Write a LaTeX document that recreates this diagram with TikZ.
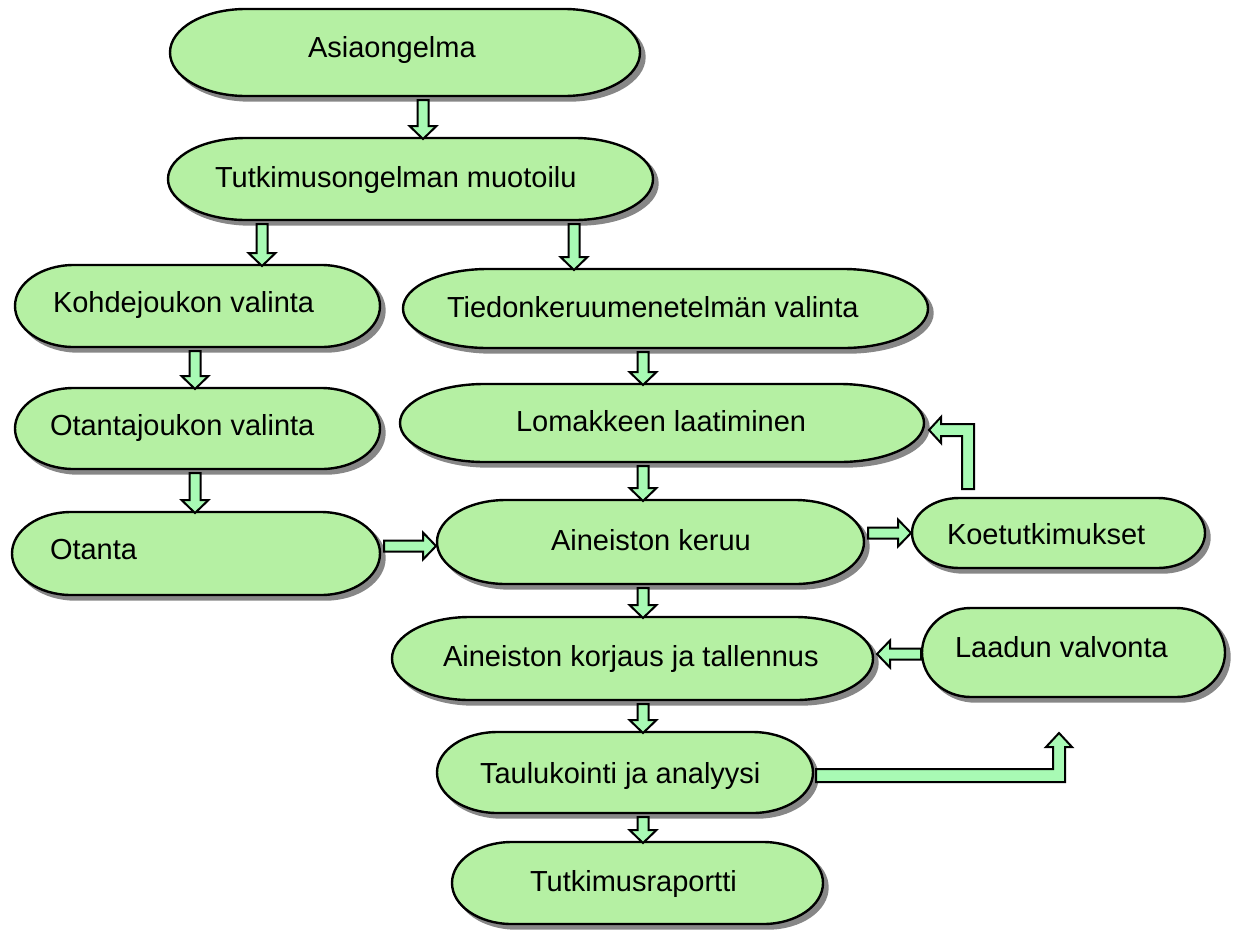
\documentclass[tikz,border=0pt]{standalone}
\usepackage{fontspec}
\setmainfont{Liberation Sans}
\usetikzlibrary{calc}
\definecolor{boxgreen}{RGB}{181,240,163}
\definecolor{arrowgreen}{RGB}{168,250,180}
\definecolor{shadowgray}{RGB}{135,135,135}
\tikzset{
  area/.style={draw=none,inner sep=0pt,outer sep=0pt,rectangle},
  termfill/.style={fill=boxgreen,draw=black,line width=2.4pt,
    preaction={fill=shadowgray,draw=shadowgray,line width=2.4pt,transform canvas={shift={(4.5pt,-4.5pt)}}}},
  barrow/.style={fill=arrowgreen,draw=black,line width=2pt,line join=miter},
  lbl/.style={inner sep=0pt,outer sep=0pt,anchor=base west,font=\fontsize{29}{35}\selectfont}
}
% invisible box node: name, x1, y1, x2, y2 (pixel coordinates, origin top left)
\newcommand{\termbox}[5]{%
  \node[area,minimum width={#4-#2},minimum height={#5-#3}] (#1) at ({(#2+#4)/2},{(#3+#5)/2}) {};}
% terminator outline with elliptical ends drawn on a box node
\newcommand{\termshape}[1]{%
  \path[termfill] let \p1=(#1.north east), \p2=(#1.south west),
    \n1={(\y1-\y2)/2}, \n2={0.161*(\x1-\x2)} in
    ({\x2+\n2},\y1) -- ({\x1-\n2},\y1)
    arc[start angle=90,end angle=-90,x radius=\n2,y radius=\n1]
    -- ({\x2+\n2},\y2)
    arc[start angle=270,end angle=90,x radius=\n2,y radius=\n1] -- cycle;}
% straight block arrow between two named coordinates
\newcommand{\blockarrow}[2]{%
  \path[barrow] ($(#1)!5.5pt!-90:(#2)$) -- ($(#2)!13pt!(#1)!5.5pt!90:(#1)$)
   -- ($(#2)!13pt!(#1)!13.5pt!90:(#1)$) -- (#2)
   -- ($(#2)!13pt!(#1)!13.5pt!-90:(#1)$) -- ($(#2)!13pt!(#1)!5.5pt!-90:(#1)$)
   -- ($(#1)!5.5pt!90:(#2)$) -- cycle;}
% vertical arrow from node #1 down to node #2 at pixel x #3
\newcommand{\vdown}[3]{%
  \path let \p1=(#1.south), \p2=(#2.north) in
    (#3pt,{\y1-4pt}) coordinate (tmpA) (#3pt,{\y2-1pt}) coordinate (tmpB);
  \blockarrow{tmpA}{tmpB}}
% horizontal arrows at pixel y #3
\newcommand{\hright}[3]{%
  \path let \p1=(#1.east), \p2=(#2.west) in
    ({\x1+4pt},-#3pt) coordinate (tmpA) ({\x2-1pt},-#3pt) coordinate (tmpB);
  \blockarrow{tmpA}{tmpB}}
\newcommand{\hleft}[3]{%
  \path let \p1=(#1.west), \p2=(#2.east) in
    ({\x1-1pt},-#3pt) coordinate (tmpA) ({\x2+4pt},-#3pt) coordinate (tmpB);
  \blockarrow{tmpA}{tmpB}}
\begin{document}
\begin{tikzpicture}[x=1pt,y=-1pt]
\useasboundingbox (0,0) rectangle (1238,937);
% boxes
\termbox{asia}{170}{9}{640}{96}
\termbox{tutk}{168}{138}{653}{220}
\termbox{kohde}{15}{265}{380}{347}
\termbox{tiedon}{403}{269}{928}{348}
\termbox{otantaj}{15}{388}{380}{469}
\termbox{lomak}{400}{384}{924}{462}
\termbox{otanta}{12}{512}{380}{595}
\termbox{keruu}{437}{500}{864}{584}
\termbox{koet}{912}{498}{1205}{568}
\termbox{korjaus}{392}{617}{873}{700}
\termbox{laadun}{922}{608}{1225}{697}
\termbox{taul}{437}{732}{813}{813}
\termbox{raportti}{452}{842}{823}{924}
% shapes
\termshape{asia}
\termshape{tutk}
\termshape{kohde}
\termshape{tiedon}
\termshape{otantaj}
\termshape{lomak}
\termshape{otanta}
\termshape{keruu}
\termshape{koet}
\termshape{korjaus}
\termshape{laadun}
\termshape{taul}
\termshape{raportti}
% texts
\node[lbl] (asiaT) at (308,57) {Asiaongelma};
\node[lbl] (tutkT) at (215,187) {Tutkimusongelman muotoilu};
\node[lbl] (kohdeT) at (53,312) {Kohdejoukon valinta};
\node[lbl] (tiedonT) at (447,317) {Tiedonkeruumenetelmän valinta};
\node[lbl] (otantajT) at (50,435) {Otantajoukon valinta};
\node[lbl] (lomakT) at (516,431) {Lomakkeen laatiminen};
\node[lbl] (otantaT) at (50,559) {Otanta};
\node[lbl] (keruuT) at (551,550) {Aineiston keruu};
\node[lbl] (koetT) at (947,544) {Koetutkimukset};
\node[lbl] (korjausT) at (443,666) {Aineiston korjaus ja tallennus};
\node[lbl] (laadunT) at (955,657) {Laadun valvonta};
\node[lbl] (taulT) at (480,783) {Taulukointi ja analyysi};
\node[lbl] (raporttiT) at (530,891) {Tutkimusraportti};
% connectors
\vdown{asia}{tutk}{423}
\vdown{tutk}{kohde}{262}
\vdown{tutk}{tiedon}{574}
\vdown{kohde}{otantaj}{195}
\vdown{otantaj}{otanta}{195}
\vdown{tiedon}{lomak}{643}
\vdown{lomak}{keruu}{643}
\vdown{keruu}{korjaus}{643}
\vdown{korjaus}{taul}{643}
\vdown{taul}{raportti}{643}
\hright{otanta}{keruu}{546}
\hright{keruu}{koet}{533}
\hleft{laadun}{korjaus}{654}
% elbow: Koetutkimukset -> Lomakkeen laatiminen
\path[barrow] (962,489) -- (962,436) -- (941,436) -- (941,443) -- (929,430)
  -- (941,417) -- (941,424) -- (974,424) -- (974,489) -- cycle;
% elbow: Taulukointi ja analyysi -> Laadun valvonta
\path[barrow] (816,769) -- (1053,769) -- (1053,747) -- (1046,747) -- (1059,733)
  -- (1072,747) -- (1065,747) -- (1065,782) -- (816,782) -- cycle;
\end{tikzpicture}
\end{document}
